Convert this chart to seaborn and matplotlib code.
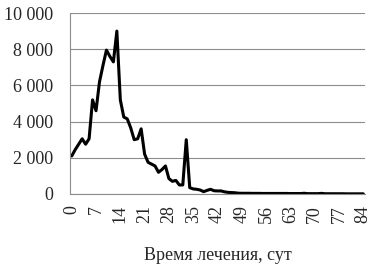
import numpy as np
import pandas as pd
import matplotlib
matplotlib.use("Agg")
import matplotlib.pyplot as plt
import seaborn as sns
from matplotlib.ticker import FuncFormatter, FixedLocator

days = list(range(85))
values = [2100, 2450, 2750, 3050, 2750, 3050, 5200, 4600, 6200, 7100,
          7950, 7600, 7300, 9000, 5200, 4250, 4150, 3650, 3000, 3050,
          3600, 2200, 1750, 1650, 1550, 1200, 1350, 1550, 850, 700,
          750, 500, 500, 3000, 350, 280, 260, 220, 130, 200,
          260, 180, 170, 170, 120, 90, 80, 70, 45, 40,
          40, 40, 35, 35, 35, 30, 30, 30, 30, 30,
          30, 30, 30, 25, 25, 25, 25, 40, 20, 20,
          20, 20, 35, 15, 15, 15, 15, 15, 15, 10,
          10, 10, 10, 10, 10]
y_ticks = [0, 2000, 4000, 6000, 8000, 10000]
x_ticks = list(range(0, 85, 7))
x_label = "Время лечения, сут"

df = pd.DataFrame({"day": days, "value": values})

sns.set_style("white")
plt.rcParams['font.family'] = ['Liberation Serif', 'DejaVu Serif']

fig = plt.figure(figsize=(3.89, 2.78), dpi=100)
ax = fig.add_axes([70/389, 1 - 194/278, 295/389, 181/278])

sns.lineplot(data=df, x="day", y="value", ax=ax, color="black", linewidth=2.2)

grid_c = "#8c8c8c"
ax.set_xlim(-0.5, 84.5)
ax.set_ylim(0, 10000)
ax.set_yticks(y_ticks)
ax.yaxis.set_major_formatter(FuncFormatter(lambda v, p: f"{int(v):,}".replace(",", " ")))
ax.yaxis.grid(True, color=grid_c, linewidth=0.8)
ax.set_axisbelow(True)

ax.set_xticks(x_ticks)
ax.set_xticklabels([str(t) for t in x_ticks], rotation=90)
ax.xaxis.set_minor_locator(FixedLocator(np.arange(-0.5, 85, 1)))
ax.tick_params(axis='x', which='major', length=0, pad=8, labelsize=13)
ax.tick_params(axis='x', which='minor', length=3.5, width=0.6, color=grid_c, direction='out')
ax.tick_params(axis='y', which='major', length=4, width=0.8, color=grid_c, direction='out', labelsize=13, pad=8)

for s in ["top", "right"]:
    ax.spines[s].set_visible(False)
for s in ["left", "bottom"]:
    ax.spines[s].set_color(grid_c)
    ax.spines[s].set_linewidth(0.8)

ax.set_xlabel(x_label, fontsize=13, labelpad=17)
ax.set_ylabel("")

fig.savefig("out.png", dpi=100)
